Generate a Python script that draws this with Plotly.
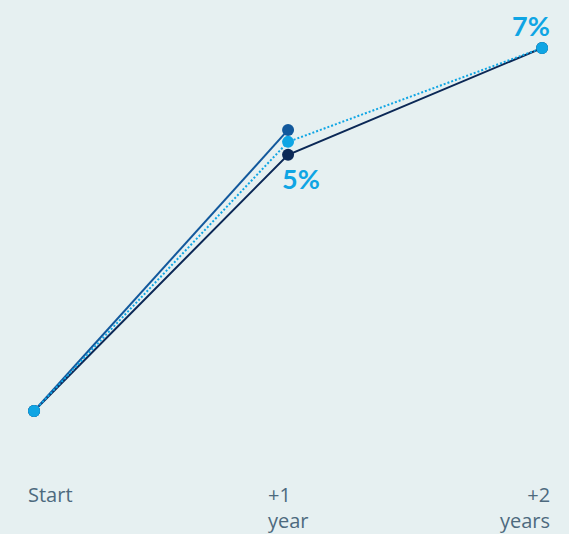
import plotly.graph_objects as go

x_vals = [0, 1, 2]
tick_labels = ["Start", "+1<br>year", "+2<br>years"]
navy = [0, 4.94, 7.0]
mid = [0, 5.42, None]
light = [0, 5.19, 7.0]
label_texts = ["5%", "7%"]

BG = "#e6f0f1"
C_NAVY = "#0b2856"
C_MID = "#12589c"
C_LIGHT = "#0fa5e4"

fig = go.Figure()
fig.add_trace(go.Scatter(x=x_vals, y=navy, mode="lines+markers",
                         line=dict(color=C_NAVY, width=2),
                         marker=dict(color=C_NAVY, size=12)))
fig.add_trace(go.Scatter(x=x_vals, y=mid, mode="lines+markers",
                         line=dict(color=C_MID, width=2),
                         marker=dict(color=C_MID, size=12)))
fig.add_trace(go.Scatter(x=x_vals, y=light, mode="lines+markers",
                         line=dict(color=C_LIGHT, width=2, dash="2px,2px"),
                         marker=dict(color=C_LIGHT, size=12)))

# value labels
fig.add_annotation(x=x_vals[1], y=navy[1], text="<b>" + label_texts[0] + "</b>",
                   showarrow=False, xanchor="left", yanchor="top", xshift=-8, yshift=-5,
                   font=dict(family="Lato", size=27, color=C_LIGHT))
fig.add_annotation(x=x_vals[2], y=navy[2], text="<b>" + label_texts[1] + "</b>",
                   showarrow=False, xanchor="right", yanchor="bottom", xshift=10, yshift=4,
                   font=dict(family="Lato", size=27, color=C_LIGHT))

# category labels
anchors = ["left", "left", "right"]
shifts = [-8, -22, 10]
for xv, t, a, s in zip(x_vals, tick_labels, anchors, shifts):
    fig.add_annotation(x=xv, y=0, text=t, showarrow=False, xanchor=a, yanchor="top",
                       align=a, xshift=s, yshift=-68,
                       font=dict(family="Open Sans", size=20, color="#4d6a7e"))

fig.update_layout(
    width=569, height=534,
    margin=dict(l=0, r=0, t=0, b=0),
    paper_bgcolor=BG, plot_bgcolor=BG,
    showlegend=False,
    xaxis=dict(range=[-0.134, 2.106], visible=False),
    yaxis=dict(range=[-2.372, 7.926], visible=False),
)
fig.write_html("out.html")
